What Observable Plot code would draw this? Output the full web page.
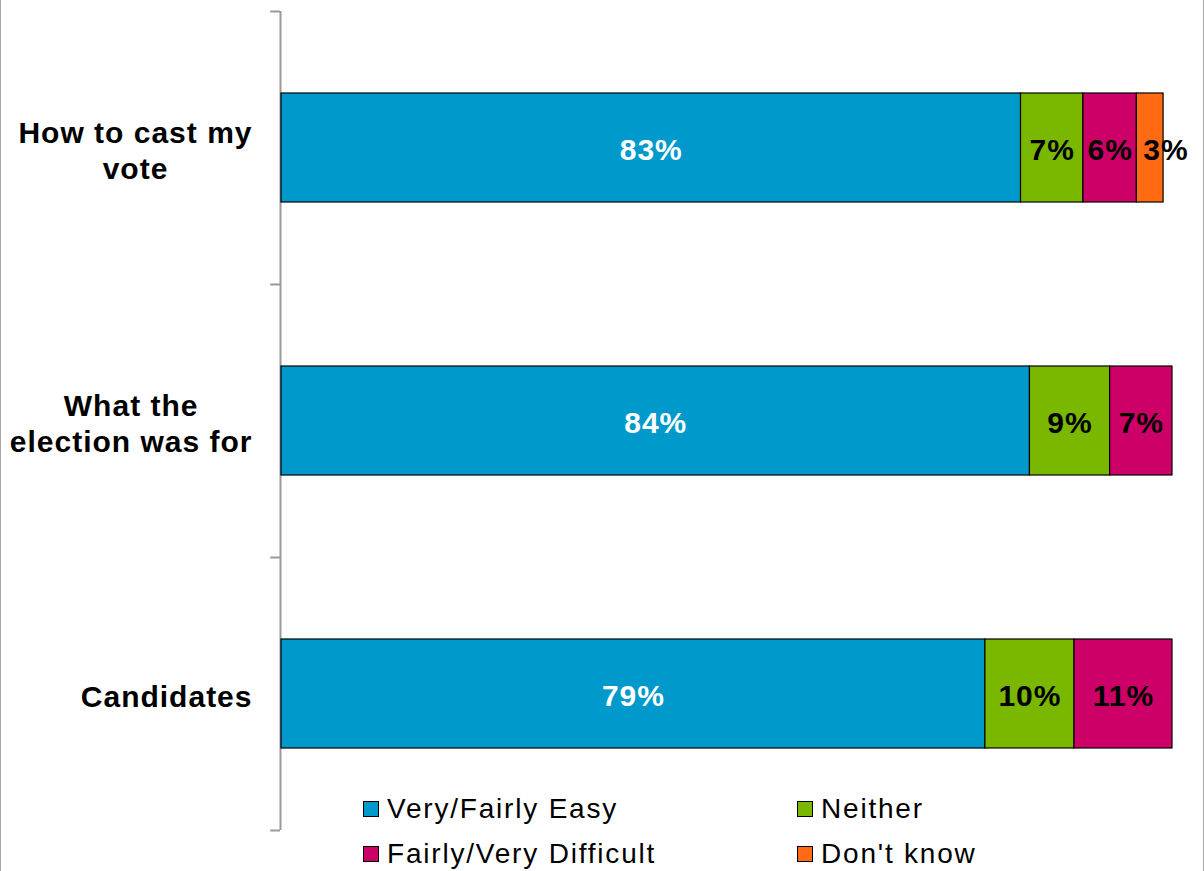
<!DOCTYPE html>
<html>
<head>
<meta charset="utf-8">
<script src="https://cdn.jsdelivr.net/npm/d3@7"></script>
<script src="https://cdn.jsdelivr.net/npm/@observablehq/plot@0.6"></script>
<style>
  html, body { margin: 0; padding: 0; background: #fff; }
  #wrap { position: relative; width: 1204px; height: 871px; overflow: hidden; font-family: "Liberation Sans", Arial, sans-serif; }
  #wrap svg text { letter-spacing: 1px; }
  .edge { position: absolute; top: 0; bottom: 0; width: 1px; background: #a6a6a6; }
  #legend { position: absolute; left: 363px; top: 786px; display: grid; grid-template-columns: 434px 300px; grid-auto-rows: 45px; }
  .item { display: flex; align-items: center; font-size: 28px; letter-spacing: 1.8px; color: #000; }
  .sw { width: 14px; height: 14px; border: 1.5px solid #000; margin-right: 8px; flex: none; }
</style>
</head>
<body>
<div id="wrap"></div>
<script>
const categories = ["How to cast my\nvote", "What the\nelection was for", "Candidates"];
const series = ["Very/Fairly Easy", "Neither", "Fairly/Very Difficult", "Don't know"];
const colors = ["#0099cc", "#7ab800", "#cc0066", "#ff6a13"];
const easy = [83, 84, 79];
const neither = [7, 9, 10];
const difficult = [6, 7, 11];
const dontKnow = [3, null, null];
const legendOrder = ["Very/Fairly Easy", "Neither", "Fairly/Very Difficult", "Don't know"];

const seriesValues = [easy, neither, difficult, dontKnow];
const data = [];
categories.forEach((c, i) => {
  series.forEach((s, j) => {
    const v = seriesValues[j][i];
    if (v != null) data.push({cat: c, series: s, value: v, color: colors[j]});
  });
});

const W = 1204, H = 871;
const mLeft = 281, mRight = 32, mTop = 11, mBottom = 41;
const font = '"Liberation Sans", Arial, sans-serif';

const ctx = document.createElement("canvas").getContext("2d");
ctx.font = `bold 30px ${font}`;
function blockWidth(label) {
  return d3.max(label.split("\n"), l => ctx.measureText(l).width + l.length * 1);
}

const step = (H - mTop - mBottom) / categories.length;

const labelMarks = categories.map(c => Plot.text([c], {
  y: d => d,
  text: d => d,
  frameAnchor: "left",
  textAnchor: "middle",
  lineAnchor: "middle",
  lineHeight: 1.2,
  dx: -(29 + blockWidth(c) / 2),
  dy: 1,
  fontSize: 30,
  fontWeight: "bold",
  fill: "#000"
}));

const narrow = d => d.value < 4;
const valueText = (keep) => Plot.text(data, Plot.stackX({
  x: "value", y: "cat",
  text: d => keep(d) ? d.value + "%" : "",
  fill: d => d.series === series[0] ? "#ffffff" : "#000000",
  fontSize: 30,
  fontWeight: "bold",
  dy: 2
}));

const chart = Plot.plot({
  width: W,
  height: H,
  marginLeft: mLeft,
  marginRight: mRight,
  marginTop: mTop,
  marginBottom: mBottom,
  style: {fontFamily: font, background: "transparent"},
  x: {domain: [0, 100], axis: null},
  y: {domain: categories, paddingInner: 0.6, paddingOuter: 0.3, axis: null},
  color: {type: "identity"},
  marks: [
    Plot.ruleX([0], {stroke: "#999", strokeWidth: 2, dx: -1}),
    Plot.ruleY(categories, {y: d => d, x1: -1.1, x2: 0, dx: -1, dy: -step / 2, stroke: "#999", strokeWidth: 2}),
    Plot.ruleY([categories[categories.length - 1]], {y: d => d, x1: -1.1, x2: 0, dx: -1, dy: step / 2, stroke: "#999", strokeWidth: 2}),
    Plot.barX(data, Plot.stackX({x: "value", y: "cat", fill: "color", stroke: "#000", strokeWidth: 1.2})),
    valueText(d => !narrow(d)),
    Plot.text(data, Plot.stackX({
      x: "value", y: "cat",
      text: d => narrow(d) ? d.value + "%" : "",
      fill: "#000000",
      fontSize: 30,
      fontWeight: "bold",
      textAnchor: "start",
      dx: -7,
      dy: 2
    })),
    ...labelMarks
  ]
});

const wrap = document.getElementById("wrap");
wrap.appendChild(chart);
chart.style.position = "absolute"; chart.style.left = "0"; chart.style.top = "0";

const l = document.createElement("div"); l.className = "edge"; l.style.left = "0px"; wrap.appendChild(l);
const r = document.createElement("div"); r.className = "edge"; r.style.left = "1203px"; wrap.appendChild(r);

const legend = document.createElement("div");
legend.id = "legend";
legendOrder.forEach(s => {
  const it = document.createElement("div");
  it.className = "item";
  const sw = document.createElement("span");
  sw.className = "sw";
  sw.style.background = colors[series.indexOf(s)];
  it.appendChild(sw);
  it.appendChild(document.createTextNode(s));
  legend.appendChild(it);
});
wrap.appendChild(legend);
</script>
</body>
</html>
